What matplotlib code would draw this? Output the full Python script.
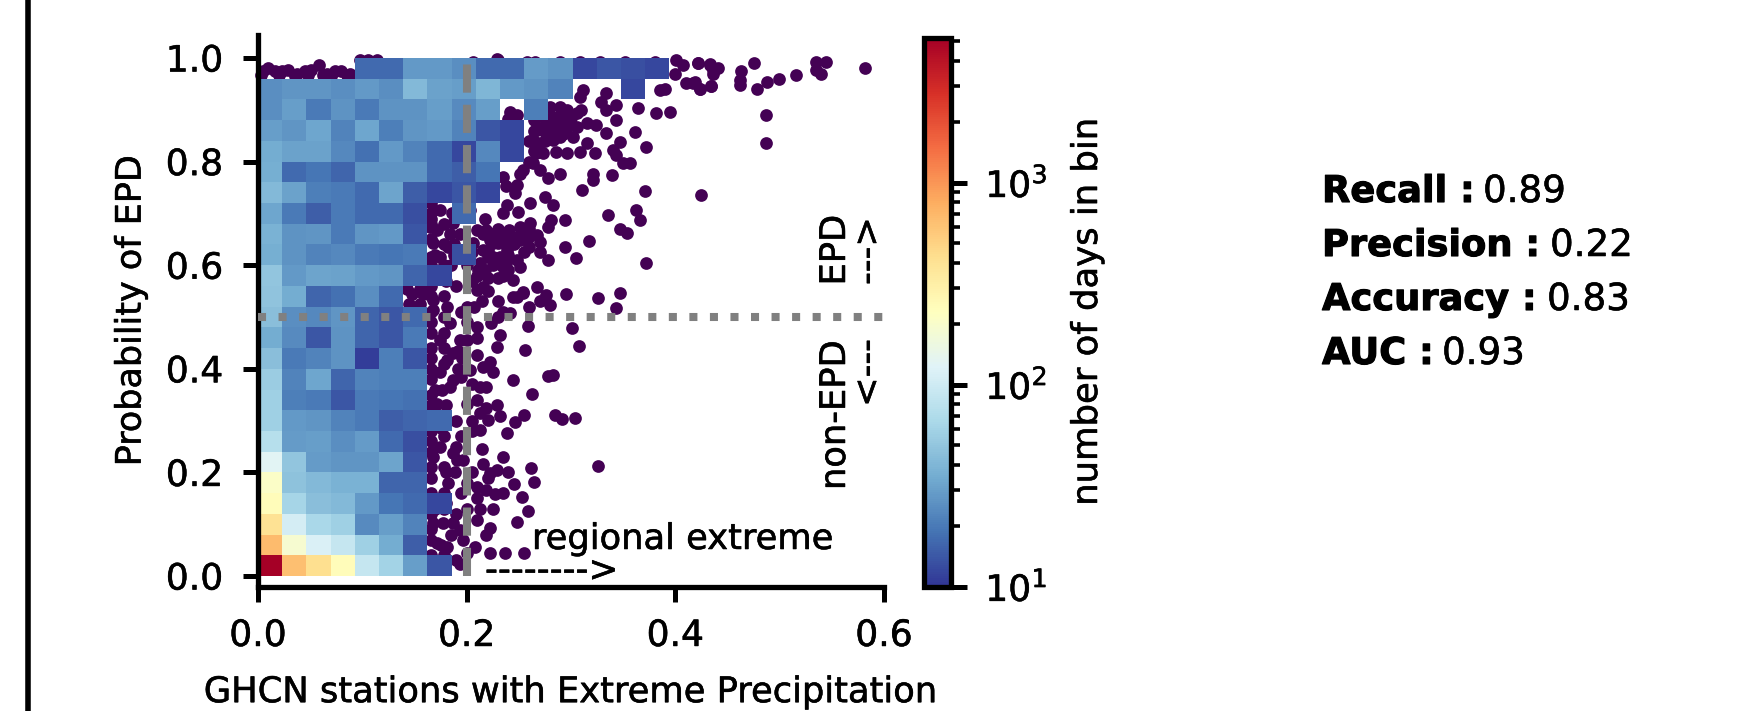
import numpy as np
import matplotlib
matplotlib.use("Agg")
import matplotlib.pyplot as plt
from matplotlib.colors import LogNorm
from matplotlib.lines import Line2D
from matplotlib.text import Text
import matplotlib.patheffects as pe

W, H = 1763, 711

# ── Data ──────────────────────────────────────────────────────────────────────
# days in each bin, row 0 = P(EPD) 0-0.04, columns = 0.0232 wide, 0 = masked (<10 days)
counts = [
    [5200, 650, 420, 240, 90, 60, 30, 14],
    [680, 190, 115, 90, 58, 35, 15],
    [400, 105, 65, 58, 24, 30, 22],
    [240, 62, 45, 42, 28, 19, 17, 12],
    [210, 47, 42, 38, 38, 16, 16],
    [130, 50, 29, 27, 27, 32, 14],
    [75, 29, 30, 25, 29, 17, 13],
    [58, 28, 27, 22, 20, 15, 16, 17],
    [58, 21, 20, 14, 20, 19, 18],
    [55, 22, 33, 16, 22, 21, 21],
    [45, 20, 22, 26, 11, 21, 14],
    [35, 24, 14, 26, 16, 14, 20],
    [45, 25, 23, 27, 16, 14, 17],
    [48, 35, 16, 18, 25, 17],
    [50, 28, 32, 31, 28, 27, 16, 12],
    [36, 26, 22, 23, 20, 19, 20, 0, 13],
    [38, 26, 27, 20, 27, 28, 14],
    [33, 20, 15, 20, 17, 17, 13, 0, 17],
    [42, 31, 21, 20, 17, 32, 15, 12, 14, 12],
    [36, 17, 19, 16, 26, 26, 26, 17, 15, 19],
    [35, 31, 31, 23, 18, 28, 22, 17, 12, 23, 12],
    [30, 27, 33, 22, 33, 21, 27, 28, 22, 14, 12],
    [25, 30, 20, 26, 20, 26, 26, 30, 24, 30, 0, 21],
    [25, 27, 27, 25, 28, 25, 42, 31, 30, 40, 28, 26, 22, 0, 0, 12],
    [0, 0, 0, 0, 17, 17, 28, 28, 25, 17, 17, 29, 26, 12, 14, 13, 12],
]

# single days outside the binned counts
top_x = [.005, .010, .016, .023, .029, .037, .045, .051, .058, .066, .074, .080, .088,
         .003, .020, .035, .048, .062, .070, .085, .0977, .1057, .1137, .2286]
top_y = [.974, .980, .974, .974, .977, .970, .974, .977, .986, .970, .974, .974, .970,
         .968, .967, .966, .967, .967, .966, .967, .996, .997, .997, .999]

upper_x = [.2063, .2302, .2574, .2654, .2893, .3085, .3276, .3516, .3803, .401, .4074, .4218,
           .433, .436, .3994, .4106, .417, .4234, .4346, .3899, .3851, .3117, .3085, .3292,
           .334, .3436, .3643, .3819, .3947, .334, .3436, .2957, .2893, .3053, .3149, .3244,
           .334, .3611, .3468, .340, .3723, .3436, .350, .3564, .286, .2957, .3085, .3149,
           .3228, .302, .2925, .2829, .2765, .2701, .2669, .2637, .2893, .2701, .2781, .2542,
           .3212, .3212, .3397, .3101, .3707, .425, .2478, .2462, .2382, .235, .2606, .2749,
           .2829, .2494, .2813, .2781, .2941, .2606, .251, .267, .3356, .3627, .3659, .3468,
           .3538, .3171, .2941, .3046, .3723, .2781, .2701, .259, .2478, .235, .2222, .2159,
           .2254, .2382, .2478, .251, .235, .2175, .2302, .2446, .2159, .2542, .2446, .267,
           .2765, .295, .326, .3468, .2095, .2175, .2031, .2095, .1712, .184, .168, .1744,
           .1823, .1935, .2063, .219, .2254, .2127, .1744, .1648, .187, .19, .211, .230, .216,
           .241, .251, .241, .232, .238, .2206, .2414, .2478, .2398, .235, .238, .2510, .2637,
           .267, .2765, .2893, .2989, .2829, .2957, .2893, .2733, .2829, .3053,
           .27, .28, .265, .275, .29, .30, .27, .285, .295, .31, .275, .265, .26, .265, .26,
           .225, .24, .245, .255, .24, .225, .24, .22, .205, .22, .26, .26, .27, .23, .255, .21, .235]
upper_y = [.993, .996, .993, .993, .993, .993, .993, .993, .993, .996, .986, .990,
           .986, .977, .970, .951, .951, .941, .945, .941, .938, .938, .925, .916,
           .932, .909, .903, .893, .896, .900, .880, .900, .906, .893, .874, .871,
           .855, .858, .838, .822, .829, .813, .797, .797, .819, .816, .819, .835,
           .817, .848, .854, .867, .854, .835, .816, .797, .777, .784, .768, .784,
           .777, .764, .774, .745, .743, .735, .755, .739, .716, .700, .721, .732,
           .716, .703, .687, .674, .687, .681, .674, .658, .697, .707, .687, .669,
           .663, .647, .636, .614, .604, .611, .626, .652, .655, .661, .649, .629,
           .616, .629, .610, .597, .597, .591, .575, .571, .558, .549, .539, .558,
           .542, .544, .536, .546, .668, .690, .707, .552, .668, .661, .642, .616,
           .636, .661, .642, .668, .642, .604, .707, .674, .681, .694, .591, .642, .661,
           .668, .649, .642, .616, .604, .616, .896, .890, .883, .771, .752, .777, .842,
           .861, .874, .874, .874, .887, .880, .848, .816, .842, .867,
           .90, .905, .88, .885, .89, .885, .865, .855, .86, .90, .84, .82, .80, .86, .84,
           .66, .655, .64, .625, .62, .60, .59, .575, .625, .63, .67, .635, .645, .67, .665, .58, .58]

tail_x = [.475, .4633, .4617, .4617, .4786, .4879, .4990, .5153, .5351, .5447, .5351, .54,
          .4866, .4866, .4218, .433, .441, .4362, .4186, .4234, .4346, .582]
tail_y = [.991, .974, .957, .948, .940, .953, .959, .968, .993, .993, .977, .969,
          .890, .835, .991, .988, .980, .970, .954, .941, .945, .981]

lower_x = [.2478, .2542, .2797, .3436, .2414, .2238, .2318, .259, .3014, .2293, .2561, .3078,
           .2095, .1871, .1807, .1744, .2222, .2248, .2159, .2127, .219, .2446, .2829, .2781,
           .2628, .2286, .219, .2318, .2551, .2462, .2845, .2909, .3037, .2127, .2207, .2127,
           .2389, .235, .2159, .2286, .2222, .2612, .3263, .2456, .2644, .2526, .2095, .219,
           .2270, .2127, .2248, .259, .2478, .2222, .219, .2095, .2079, .2222, .2366, .2548,
           .1935, .1871, .1903, .1744, .1887, .1823, .1967, .1871, .1775, .1935, .1807, .1712,
           .1967, .168, .168, .1744, .1839, .1871, .2031, .1696, .1712, .1999, .1935, .1999,
           .1839, .168, .1807, .168, .192, .196, .192, .176, .18, .195, .19, .175, .195, .19,
           .205, .18, .20, .195, .18, .17, .2, .19, .185, .175, .2, .19, .175, .21, .2, .21,
           .195, .2, .215, .23, .22, .205, .19, .18, .17, .185, .2, .17, .195, .207, .23,
           .235, .26, .27, .215, .205, .21, .205, .205, .22, .24, .235, .21]
lower_y = [.539, .546, .523, .517, .507, .488, .465, .482, .479, .443, .436, .444,
           .427, .430, .417, .455, .414, .394, .404, .365, .365, .378, .388, .386,
           .351, .330, .324, .309, .311, .297, .311, .304, .306, .315, .301, .282,
           .277, .230, .216, .205, .198, .209, .212, .177, .181, .152, .172, .166,
           .159, .130, .129, .125, .105, .092, .079, .108, .056, .044, .044, .045,
           .024, .237, .224, .250, .201, .179, .224, .102, .102, .089, .056, .063,
           .069, .102, .230, .394, .365, .378, .398, .359, .333, .333, .455, .455,
           .488, .533, .520, .513, .435, .42, .40, .36, .33, .385, .30, .285, .27, .25,
           .20, .20, .18, .16, .14, .13, .13, .12, .08, .06, .045, .03, .03, .48, .49, .46,
           .51, .52, .53, .53, .55, .57, .56, .57, .58, .6, .6, .62, .63, .52, .5,
           .51, .52, .53, .245, .37, .34, .30, .28, .19, .2, .16, .15]

# dense edge just right of the binned area
edge_x = [.166] * 32 + [.178] * 14 + [.145, .155, .148, .158, .143, .155, .188, .188, .186]
edge_y = [.02, .04, .07, .09, .12, .14, .16, .19, .21, .24, .26, .28, .30, .33, .35, .38,
          .40, .42, .44, .47, .49, .51, .54, .56, .58, .60, .615, .65, .68, .70, .69, .72,
          .04, .13, .16, .21, .27, .31, .41, .44, .47, .50, .54, .60, .64, .68,
          .525, .525, .545, .545, .555, .555, .64, .62, .70]

x_ticks = [0.0, 0.2, 0.4, 0.6]
y_ticks = [0.0, 0.2, 0.4, 0.6, 0.8, 1.0]
EPD_cut = 0.5
STATION_cut = 0.2

metric_names = ["Recall :", "Precision :", "Accuracy :", "AUC :"]
metric_values = ["0.89", "0.22", "0.83", "0.93"]
metric_value_px = [1483, 1550, 1547, 1442]
metric_base_px = [202, 256, 310, 364]

# ── Helpers ───────────────────────────────────────────────────────────────────
def box(x0, x1, ytop, ybot):
    return [x0 / W, 1 - ybot / H, (x1 - x0) / W, (ybot - ytop) / H]

# ── Plot ──────────────────────────────────────────────────────────────────────
plt.rcParams['font.family'] = 'DejaVu Sans'
fig = plt.figure(figsize=(W / 100, H / 100), dpi=100)
ax = fig.add_axes(box(258, 884, 35, 587))

grid = np.zeros((25, 25))
for i, row in enumerate(counts):
    grid[i, :len(row)] = row
grid = np.ma.masked_less(grid, 10)

xe = np.linspace(0, 0.58, 26)
ye = np.linspace(0, 1, 26)

for xs, ys in [(top_x, top_y), (upper_x, upper_y), (tail_x, tail_y), (lower_x, lower_y), (edge_x, edge_y)]:
    ax.scatter(xs, ys, s=84, color='#440154', lw=0, zorder=1, clip_on=False)

mesh = ax.pcolormesh(xe, ye, grid, cmap='RdYlBu_r', norm=LogNorm(10, 5200), zorder=2)

ax.plot([STATION_cut, STATION_cut], [0, 1], color='gray', ls=(0, (3.5, 1.5)), lw=5.8, zorder=3)
ax.plot([0, 0.6], [EPD_cut, EPD_cut], color='gray', ls=(0, (1, 1.55)), lw=5.8, zorder=3)

ax.set_xlim(0, 0.6)
ax.set_ylim(-0.0212, 1.0444)
ax.set_xticks(x_ticks)
ax.set_yticks(y_ticks)
ax.spines['top'].set_visible(False)
ax.spines['right'].set_visible(False)
ax.spines['left'].set_linewidth(3.8)
ax.spines['bottom'].set_linewidth(3.8)
ax.tick_params(length=11, width=3.6, labelsize=26)
ax.tick_params(axis='x', pad=12)
ax.tick_params(axis='y', pad=14)

ax.set_xlabel("GHCN stations with Extreme Precipitation", fontsize=25.4, labelpad=16)
ax.set_ylabel("Probability of EPD", fontsize=25.2, labelpad=13)

fig.text(683 / W, 1 - 539 / H, "regional extreme", fontsize=25.4, ha='center', va='center')
fig.text(552 / W, 1 - 571 / H, "-------->", fontsize=25.8, ha='center', va='center')
fig.text(835 / W, 1 - 250 / H, "EPD", fontsize=25.4, rotation=90, ha='center', va='center')
fig.text(868 / W, 1 - 251 / H, "--->", fontsize=25.4, rotation=90, ha='center', va='center')
fig.text(835 / W, 1 - 415 / H, "non-EPD", fontsize=25.4, rotation=90, ha='center', va='center')
fig.text(868 / W, 1 - 373 / H, "<---", fontsize=25.4, rotation=90, ha='center', va='center')

# colorbar
cax = fig.add_axes(box(923.5, 950.5, 38, 586.5))
cb = fig.colorbar(mesh, cax=cax)
cb.outline.set_linewidth(3.8)
cax.tick_params(which='major', length=11.5, width=3.6, labelsize=26, pad=13.5)
cax.tick_params(which='minor', length=6.5, width=2.6)
fig.text(1087 / W, 1 - 312 / H, "number of days in bin", fontsize=25.5, rotation=90, ha='center', va='center')

# metrics
for name, val, vx, by in zip(metric_names, metric_values, metric_value_px, metric_base_px):
    t = fig.text(1322 / W, 1 - by / H, name, fontsize=26.5, fontweight='bold', ha='left', va='baseline')
    t.set_path_effects([pe.withStroke(linewidth=0.8, foreground='k')])
    fig.text(vx / W, 1 - by / H, val, fontsize=26.8, ha='left', va='baseline')

# source is a soft upscale, so the regular text reads a bit heavier
for t in fig.findobj(Text):
    if t.get_fontweight() != 'bold':
        t.set_path_effects([pe.withStroke(linewidth=0.4, foreground='k')])

# border of the neighbouring panel
fig.add_artist(Line2D([27.5 / W, 27.5 / W], [0, 1], color='k', lw=4))

fig.savefig("out.png", dpi=100)
